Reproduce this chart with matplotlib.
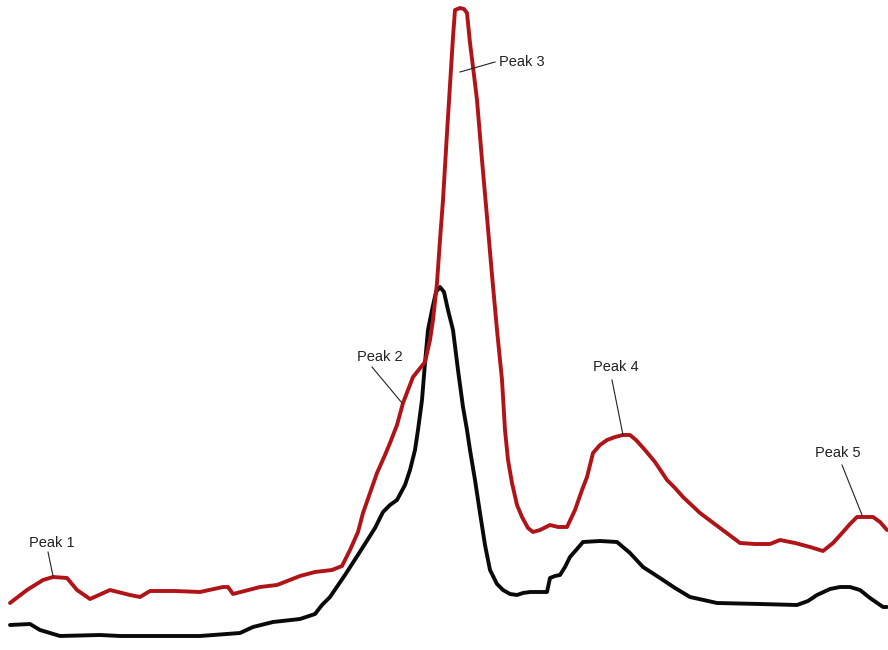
import matplotlib.pyplot as plt

# traced signal heights (x position, height above the bottom edge)
red_x = [10, 27, 43, 53, 67, 77, 90, 110, 130, 140, 150, 175, 200, 223, 228, 233,
         260, 277, 300, 315, 332, 342, 350, 358, 363, 370, 377, 385, 390, 397, 403,
         413, 425, 430, 433, 437, 440, 443, 447, 450, 453, 455, 460, 464, 467, 470,
         474, 477, 482, 487, 492, 497, 502, 505, 508, 512, 517, 522, 528, 533, 540,
         550, 558, 567, 575, 582, 587, 593, 600, 607, 615, 623, 630, 636, 645, 655,
         667, 675, 683, 700, 720, 740, 755, 770, 780, 795, 810, 823, 833, 843, 850,
         857, 873, 880, 887]
red_py = [603, 590, 580, 577, 578, 590, 599, 590, 595, 597, 591, 591, 592, 587, 587, 594,
          587, 585, 576, 572, 570, 566, 550, 532, 513, 493, 473, 455, 443, 425, 403,
          377, 362, 340, 320, 283, 240, 200, 133, 85, 37, 10, 8, 9, 13, 43,
          75, 100, 160, 217, 275, 330, 380, 430, 460, 483, 505, 517, 528, 532, 530,
          525, 527, 527, 510, 490, 477, 453, 445, 440, 437, 435, 435, 440, 450, 462,
          480, 488, 497, 513, 528, 543, 544, 544, 540, 543, 547, 551, 543, 532, 524,
          517, 517, 522, 530]

black_x = [10, 30, 40, 60, 100, 120, 200, 240, 253, 273, 300, 315, 322, 330, 345, 363,
           375, 383, 390, 397, 405, 410, 415, 418, 422, 425, 428, 432, 436, 440, 444,
           448, 453, 458, 463, 467, 470, 475, 480, 485, 490, 497, 503, 510, 517, 523,
           530, 547, 550, 555, 560, 565, 570, 577, 583, 600, 617, 630, 643, 660, 675,
           690, 717, 760, 797, 808, 817, 830, 840, 850, 860, 870, 883, 887]
black_py = [625, 624, 630, 636, 635, 636, 636, 633, 627, 622, 619, 614, 605, 597, 575, 547,
            528, 512, 505, 500, 485, 470, 450, 430, 400, 363, 330, 310, 292, 287, 292,
            310, 330, 370, 407, 430, 450, 480, 513, 545, 570, 584, 590, 594, 595, 593,
            592, 592, 578, 576, 575, 567, 557, 549, 542, 541, 542, 553, 567, 578, 588,
            597, 603, 604, 605, 601, 595, 589, 587, 587, 590, 598, 607, 607]

H = 650
red_y = [H - v for v in red_py]
black_y = [H - v for v in black_py]

# labels: text, text position, leader line start, leader line end
labels = ["Peak 1", "Peak 2", "Peak 3", "Peak 4", "Peak 5"]
label_pos = [(52, 543), (380, 357), (522, 62), (616, 367), (838, 453)]
lead_from = [(48, 552), (372, 367), (495, 62), (612, 380), (842, 465)]
lead_to = [(53, 576), (402, 403), (460, 72), (623, 435), (862, 515)]

fig = plt.figure(figsize=(8.88, 6.5), dpi=100)
ax = fig.add_axes([0, 0, 1, 1])
ax.plot(black_x, black_y, color="#0a0a0a", lw=2.8, solid_capstyle="round",
        solid_joinstyle="round", zorder=2)
ax.plot(red_x, red_y, color="#b01418", lw=2.8, solid_capstyle="round",
        solid_joinstyle="round", zorder=3)

for t, p, a, b in zip(labels, label_pos, lead_from, lead_to):
    ax.plot([a[0], b[0]], [H - a[1], H - b[1]], color="#222222", lw=0.8, zorder=4)
    ax.text(p[0], H - p[1], t, ha="center", va="center", fontsize=10.5,
            family=["Liberation Sans", "DejaVu Sans"], color="#222222")

ax.set_xlim(0, 888)
ax.set_ylim(0, H)
ax.axis("off")
fig.savefig("out.png", dpi=100, facecolor="white")
